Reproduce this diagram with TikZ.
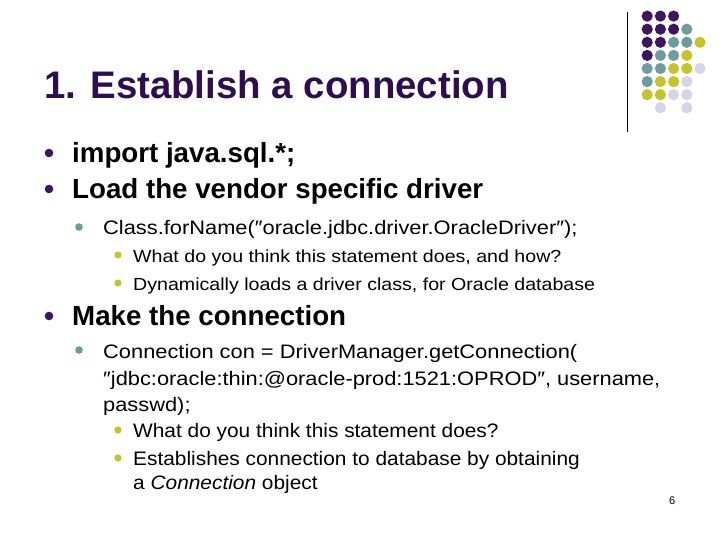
\documentclass[tikz,border=0pt]{standalone}
\usepackage{fontspec}
\setmainfont{Liberation Sans}
\newfontfamily\widefont[FakeStretch=1.12]{Liberation Sans}
\newfontfamily\midfont[FakeStretch=1.07]{Liberation Sans}
\begin{document}
\begin{tikzpicture}[x=1pt,y=-1pt,
  tx/.style={anchor=base west,inner sep=0pt},
  la/.style={tx,font=\fontsize{27.7}{32}\selectfont\bfseries},
  lb/.style={tx,font=\widefont\fontsize{19.5}{23}\selectfont},
  lc/.style={tx,font=\widefont\fontsize{17.5}{21}\selectfont},
  ld/.style={tx,font=\midfont\fontsize{19.5}{23}\selectfont}]
\definecolor{pur}{HTML}{3D1560}
\definecolor{tpur}{HTML}{2E0E50}
\definecolor{tea}{HTML}{6E9C9E}
\definecolor{yel}{HTML}{C8C328}
\definecolor{lav}{HTML}{D4D6E8}
\useasboundingbox (0,0) rectangle (720,540);
\fill[white] (0,0) rectangle (720,540);
\draw[line width=1pt] (627,12) -- (627,132);
\foreach \row/\cols [count=\r] in {1/{pur,pur,pur},2/{pur,pur,pur,tea},3/{pur,pur,tea,tea,yel},4/{pur,tea,tea,yel},5/{tea,tea,yel,yel,lav},6/{tea,yel,yel,lav},7/{yel,yel,lav,lav},8/{white,lav,white,lav}}{
  \foreach \c [count=\k] in \cols { \fill[\c] (634+13.2*\k,3+13.1*\r) circle (5.6); }
}
\node[tx,font=\fontsize{38.4}{44}\selectfont\bfseries,text=tpur] (title) at (44,99) {1. Establish a connection};
\foreach \y/\c/\x/\rr in {153/pur/49/4.3,189/pur/49/4.3,316/pur/49/4.3,227/tea/79/3.8,350/tea/79/3.8,255/yel/118/3.6,283/yel/118/3.6,430/yel/118/3.6,458/yel/118/3.6}{
  \fill[\c] (\x,\y) circle (\rr);
}
\node[la] (a1) at (72,163) {import java.sql.*;};
\node[la] (a2) at (72,199) {Load the vendor specific driver};
\node[lb] (b1) at (103,234) {Class.forName(″oracle.jdbc.driver.OracleDriver″);};
\node[lc] (c1) at (133,262) {What do you think this statement does, and how?};
\node[lc] (c2) at (133,290) {Dynamically loads a driver class, for Oracle database};
\node[la] (a3) at (72,325) {Make the connection};
\node[lb] (b2) at (103,358) {Connection con = DriverManager.getConnection(};
\node[lb] (b3) at (103,385) {″jdbc:oracle:thin:@oracle-prod:1521:OPROD″, username,};
\node[lb] (b4) at (103,411) {passwd);};
\node[ld] (c3) at (133,437) {What do you think this statement does?};
\node[ld] (c4) at (133,465) {Establishes connection to database by obtaining};
\node[ld] (c5) at (133,489) {a \textit{Connection} object};
\node[tx,font=\fontsize{11}{13}\selectfont] (pg) at (669,504) {6};
\end{tikzpicture}
\end{document}
